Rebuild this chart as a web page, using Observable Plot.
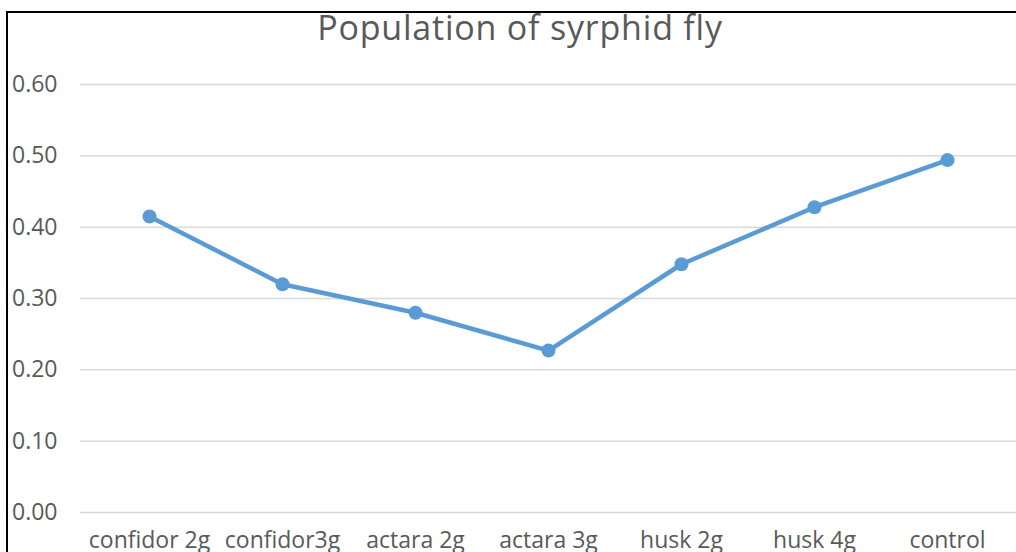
<!DOCTYPE html>
<html>
<head>
<meta charset="utf-8">
<script src="https://cdn.jsdelivr.net/npm/d3@7"></script>
<script src="https://cdn.jsdelivr.net/npm/@observablehq/plot@0.6"></script>
<style>
  html, body { margin: 0; padding: 0; background: #fff; }
  #wrap { position: relative; width: 1016px; height: 552px; overflow: hidden; font-family: "Open Sans", sans-serif; }
  #frame { position: absolute; left: 6px; top: 11px; width: 1020px; height: 600px; border-top: 2px solid #000; border-left: 2px solid #000; box-sizing: border-box; pointer-events: none; }
  #title { position: absolute; left: 0; width: 1040px; top: 0px; line-height: 1; text-align: center; font-size: 34px; letter-spacing: 0.8px; color: #595959; }
  #chart { position: absolute; left: 0; top: 0; }
</style>
</head>
<body>
<div id="wrap">
  <div id="chart"></div>
  <div id="frame"></div>
  <div id="title"><span style="position:relative; top:10px">Population of syrphid fly</span></div>
</div>
<script>
const categories = ["confidor 2g", "confidor3g", "actara 2g", "actara 3g", "husk 2g", "husk 4g", "control"];
const values = [0.415, 0.320, 0.280, 0.227, 0.348, 0.428, 0.494];
const yTicks = [0, 0.1, 0.2, 0.3, 0.4, 0.5, 0.6];

const data = categories.map((c, i) => ({category: c, value: values[i]}));

const chart = Plot.plot({
  width: 1016,
  height: 552,
  marginTop: 84,
  marginBottom: 40,
  marginLeft: 80,
  marginRight: 0,
  style: {fontFamily: "'Open Sans', sans-serif", fontSize: "23px", color: "#595959", background: "transparent"},
  x: {type: "point", domain: categories, padding: 0.5, label: null},
  y: {domain: [0, 0.6], label: null},
  marks: [
    Plot.ruleY(yTicks, {stroke: "#d9d9d9", strokeWidth: 1.5}),
    Plot.axisY(yTicks, {tickSize: 0, tickPadding: 23, tickFormat: d => d.toFixed(2), fontSize: 23, fill: "#595959", label: null}),
    Plot.axisX({tickSize: 0, tickPadding: 19, fontSize: 23, fill: "#595959", label: null}),
    Plot.line(data, {x: "category", y: "value", stroke: "#5B9BD5", strokeWidth: 4.5}),
    Plot.dot(data, {x: "category", y: "value", fill: "#5B9BD5", r: 7})
  ]
});
document.getElementById("chart").appendChild(chart);
</script>
</body>
</html>
